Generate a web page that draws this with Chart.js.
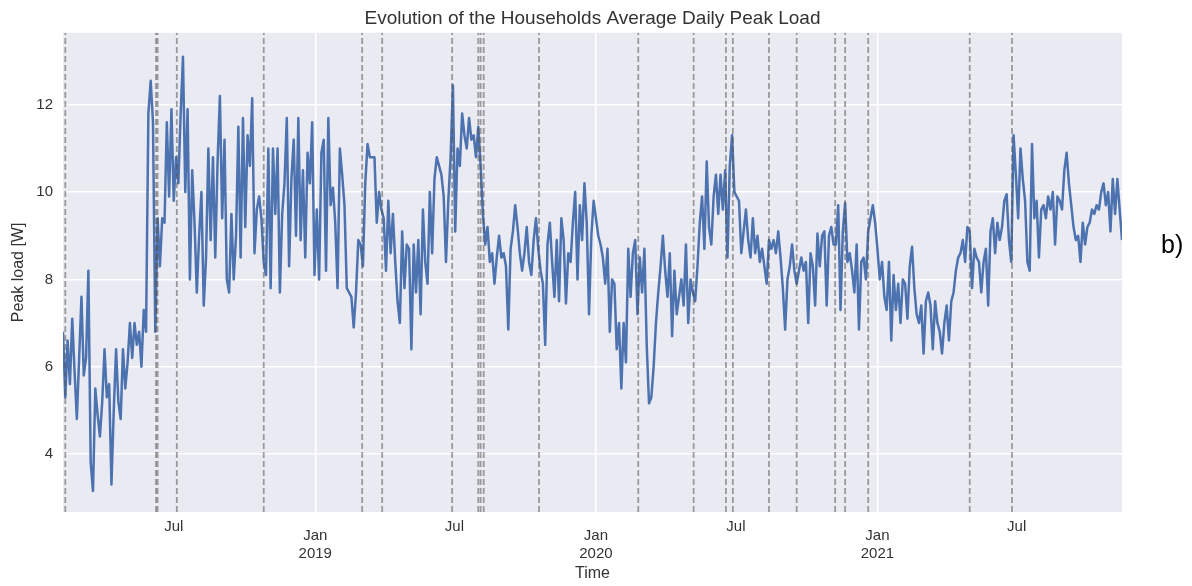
<!DOCTYPE html>
<html>
<head>
<meta charset="utf-8">
<script src="https://cdn.jsdelivr.net/npm/chart.js@4.4.1/dist/chart.umd.min.js"></script>
<style>
  html, body { margin: 0; padding: 0; background: #fff; }
  #wrap { width: 1192px; height: 586px; }
</style>
</head>
<body>
<div id="wrap"><canvas id="peakChart" width="1192" height="586"></canvas></div>
<script>
// series: one reading every 3 days starting at startDate
const startDate = '2018-02-07';
const endDate = '2021-11-15';
const stepDays = 3;

const load2018 = [
  6.8, 5.3, 6.6, 5.6, 7.1, 5.9, 4.8, 6.2, 7.6, 5.8,
  6.2, 8.2, 3.8, 3.15, 5.5, 4.9, 4.4, 5.2, 6.4, 5.3,
  5.6, 3.3, 5.0, 6.4, 5.2, 4.8, 6.4, 5.5, 6.1, 7.0,
  6.2, 7.0, 6.5, 6.8, 6.0, 7.3, 6.8, 11.8, 12.55, 11.6,
  6.8, 9.4, 8.3, 9.4, 9.3, 11.6, 9.9, 11.9, 9.8, 10.8,
  10.2, 11.8, 13.1, 10.0, 11.9, 8.0, 10.5, 9.3, 7.7, 9.0,
  10.0, 7.4, 8.5, 11.0, 8.9, 10.8, 8.5, 10.7, 12.2, 9.4,
  11.2, 8.0, 7.7, 9.5, 8.0, 9.0, 11.5, 8.5, 11.7, 9.2,
  11.3, 10.6, 12.15, 8.6, 9.6, 9.9, 9.4, 8.4, 8.1, 11.0,
  7.8, 11.0, 9.5, 11.0, 7.7, 9.5, 10.2, 11.7, 8.3, 10.3,
  11.2, 9.0, 11.7, 8.9, 10.5, 8.5, 10.9, 10.2, 11.6, 8.1
];
const load2019 = [
  9.6, 8.0, 10.9, 11.2, 8.2, 11.7, 9.7, 10.1, 9.3, 7.8,
  11.0, 10.4, 9.7, 7.8, 7.7, 7.6, 6.9, 7.7, 8.9, 8.8,
  8.3, 10.2, 11.1, 10.8, 10.8, 10.8, 9.3, 10.0, 9.6, 9.4,
  8.2, 9.8, 8.6, 9.5, 8.4, 7.5, 7.0, 9.1, 7.8, 8.8,
  8.7, 6.4, 8.8, 7.7, 8.9, 7.2, 9.6, 8.4, 7.9, 10.0,
  8.6, 10.3, 10.8, 10.6, 10.4, 9.9, 8.4, 9.8, 10.8, 12.45,
  9.1, 11.0, 10.6, 11.8, 11.3, 11.0, 11.7, 11.2, 11.3, 10.8,
  11.5, 10.6, 9.5, 8.8, 9.2, 8.4, 8.6, 7.9, 8.5, 9.0,
  8.5, 8.6, 8.3, 6.85, 8.7, 9.1, 9.7, 9.2, 8.6, 8.2,
  8.6, 9.2, 8.4, 8.1, 8.9, 9.4, 8.7, 8.2, 7.9, 6.5,
  8.8, 9.3, 8.4, 7.6, 8.9, 7.5, 9.4, 8.9, 7.45, 8.6,
  8.4, 9.3, 10.0, 8.0, 9.7, 8.9, 10.2, 9.3, 7.2, 9.0,
  9.8
];
const load2020 = [
  9.4, 9.0, 8.8, 8.5, 7.9, 8.7, 6.8, 8.0, 7.9,
  6.4, 7.0, 5.5, 7.0, 6.1, 8.7, 7.6, 8.6, 8.9, 7.2,
  8.5, 7.7, 8.7, 6.5, 5.16, 5.3, 6.0, 7.0, 7.7, 8.3,
  9.0, 8.2, 7.6, 8.6, 6.7, 8.2, 7.2, 7.6, 8.0, 7.4,
  8.8, 7.0, 8.0, 7.7, 7.5, 8.3, 9.3, 9.9, 8.7, 10.7,
  9.2, 8.8, 9.9, 10.4, 9.5, 10.4, 9.6, 10.5, 8.5, 10.6,
  11.3, 10.0, 9.9, 9.8, 8.6, 9.1, 9.6, 8.9, 8.5, 9.4,
  8.6, 9.0, 8.4, 8.7, 8.3, 7.9, 8.9, 8.7, 8.9, 8.6,
  9.1, 8.5, 7.8, 6.85, 8.0, 8.3, 8.8, 8.2, 7.9, 8.2,
  8.5, 8.2, 8.4, 7.0, 8.6, 8.3, 7.4, 9.05, 8.3, 9.0,
  9.1, 7.4, 9.0, 9.2, 8.8, 8.8, 9.7, 7.3, 9.1, 9.75,
  8.4, 8.6, 8.2, 7.7, 8.8, 6.85, 8.4, 8.5, 8.0, 9.1,
  9.4, 9.7, 9.3
];
const load2021 = [
  8.7, 8.0, 8.4, 7.6, 7.3, 8.4, 6.6,
  8.1, 7.3, 7.9, 7.0, 8.0, 7.9, 7.1, 8.3, 8.75, 7.8,
  7.2, 7.0, 7.4, 6.3, 7.5, 7.7, 7.4, 6.4, 7.5, 7.0,
  6.8, 6.3, 7.0, 7.4, 6.6, 7.5, 7.7, 8.2, 8.5, 8.6,
  8.9, 8.4, 9.2, 9.1, 7.8, 8.7, 8.5, 8.4, 7.7, 8.4,
  8.7, 7.4, 9.1, 9.4, 8.6, 9.3, 8.9, 9.2, 9.8, 9.95,
  8.9, 8.4, 11.3, 10.4, 9.4, 11.0, 10.3, 9.8, 8.4, 8.2,
  11.1, 9.4, 9.8, 8.5, 9.6, 9.7, 9.4, 9.9, 9.6, 10.0,
  8.8, 9.9, 9.8, 9.6, 10.5, 10.9, 10.2, 9.7, 9.2, 8.9,
  9.0, 8.4, 9.3, 8.8, 9.2, 9.3, 9.6, 9.5, 9.7, 9.6,
  10.0, 10.2, 9.7, 10.0, 9.1, 10.3, 9.5, 10.3, 9.6, 8.9
];

const yMin = 2.67;
const yMax = 13.65;
const yTicks = [4, 6, 8, 10, 12];

const tickDates = ['2018-07-01', '2019-01-01', '2019-07-01', '2020-01-01', '2020-07-01', '2021-01-01', '2021-07-01'];
const tickLabels = [['Jul'], ['Jan', '2019'], ['Jul'], ['Jan', '2020'], ['Jul'], ['Jan', '2021'], ['Jul']];

// dashed vertical markers
const eventDates = [
  '2018-02-10', '2018-06-08', '2018-06-10', '2018-07-05', '2018-10-26',
  '2019-03-03', '2019-03-29', '2019-06-28', '2019-08-01', '2019-08-04', '2019-08-08', '2019-10-19',
  '2020-02-25', '2020-05-07', '2020-06-18', '2020-06-27', '2020-08-13', '2020-09-18',
  '2020-11-07', '2020-11-20', '2020-12-20',
  '2021-05-01', '2021-06-25'
];

const FONT = '"Liberation Sans", Arial, sans-serif';
const TEXT = '#333333';

const utc = s => { const [y, m, d] = s.split('-').map(Number); return Date.UTC(y, m - 1, d); };
const dayOf = s => Math.round((utc(s) - utc(startDate)) / 86400000);

const allLoad = [...load2018, ...load2019, ...load2020, ...load2021];
const loadPoints = allLoad.map((v, i) => ({ x: i * stepDays, y: v }));
const janDays = new Set(tickDates.filter((d, i) => tickLabels[i].length > 1).map(dayOf));

const eventSets = eventDates.map(d => ({
  data: [{ x: dayOf(d), y: yMin }, { x: dayOf(d), y: yMax }],
  borderColor: 'rgba(85,85,85,0.55)',
  borderWidth: 1.8,
  borderDash: [6, 3],
  pointRadius: 0,
  order: 0
}));

const plotBg = {
  id: 'plotBg',
  beforeDraw(chart) {
    const { ctx, chartArea: a } = chart;
    ctx.save();
    ctx.fillStyle = '#EAEAF2';
    ctx.fillRect(a.left, a.top, a.right - a.left, a.bottom - a.top);
    ctx.restore();
  }
};

// date labels: Jan sits a little lower than Jul, with the year under it
const dateLabels = {
  id: 'dateLabels',
  afterDraw(chart) {
    const { ctx } = chart;
    const xs = chart.scales.x;
    ctx.save();
    ctx.font = '15px ' + FONT;
    ctx.fillStyle = TEXT;
    ctx.textAlign = 'center';
    ctx.textBaseline = 'middle';
    tickDates.forEach((d, i) => {
      const px = xs.getPixelForValue(dayOf(d));
      const lab = tickLabels[i];
      if (lab.length === 1) {
        ctx.fillText(lab[0], px, 527);
      } else {
        ctx.fillText(lab[0], px, 536);
        ctx.fillText(lab[1], px, 554);
      }
    });
    ctx.font = '25px ' + FONT;
    ctx.fillStyle = '#000';
    ctx.textAlign = 'left';
    ctx.fillText('b)', 1161, 246);
    ctx.restore();
  }
};

Chart.defaults.font.family = FONT;

new Chart(document.getElementById('peakChart'), {
  type: 'line',
  data: {
    datasets: [
      {
        data: loadPoints,
        borderColor: '#4C72B0',
        borderWidth: 2.5,
        borderJoinStyle: 'round',
        pointRadius: 0,
        tension: 0,
        fill: false,
        order: 1
      },
      ...eventSets
    ]
  },
  options: {
    responsive: false,
    devicePixelRatio: 1,
    animation: false,
    layout: { padding: { left: 0, right: 70, top: 0, bottom: 0 } },
    plugins: {
      legend: { display: false },
      tooltip: { enabled: false },
      title: {
        display: true,
        fullSize: false,
        text: 'Evolution of the Households Average Daily Peak Load',
        color: TEXT,
        font: { size: 19, weight: 'normal' },
        padding: { top: 7, bottom: 3 }
      }
    },
    scales: {
      x: {
        type: 'linear',
        min: 0,
        max: dayOf(endDate),
        afterBuildTicks: s => { s.ticks = tickDates.map(d => ({ value: dayOf(d) })); },
        afterFit: s => { s.height = 74; },
        ticks: { display: false },
        grid: {
          color: c => (c.tick && janDays.has(c.tick.value)) ? '#ffffff' : 'rgba(0,0,0,0)',
          lineWidth: 1.5,
          drawTicks: false
        },
        border: { display: false },
        title: {
          display: true,
          text: 'Time',
          color: TEXT,
          font: { size: 16 },
          padding: { top: 0, bottom: 3 }
        }
      },
      y: {
        min: yMin,
        max: yMax,
        afterBuildTicks: s => { s.ticks = yTicks.map(v => ({ value: v })); },
        afterFit: s => { s.width = 63; },
        ticks: { color: TEXT, font: { size: 15 }, padding: 10 },
        grid: { color: '#ffffff', lineWidth: 1.5, drawTicks: false },
        border: { display: false },
        title: {
          display: true,
          text: 'Peak load [W]',
          color: TEXT,
          font: { size: 16 },
          padding: { top: 9, bottom: 0 }
        }
      }
    }
  },
  plugins: [plotBg, dateLabels]
});
</script>
</body>
</html>
